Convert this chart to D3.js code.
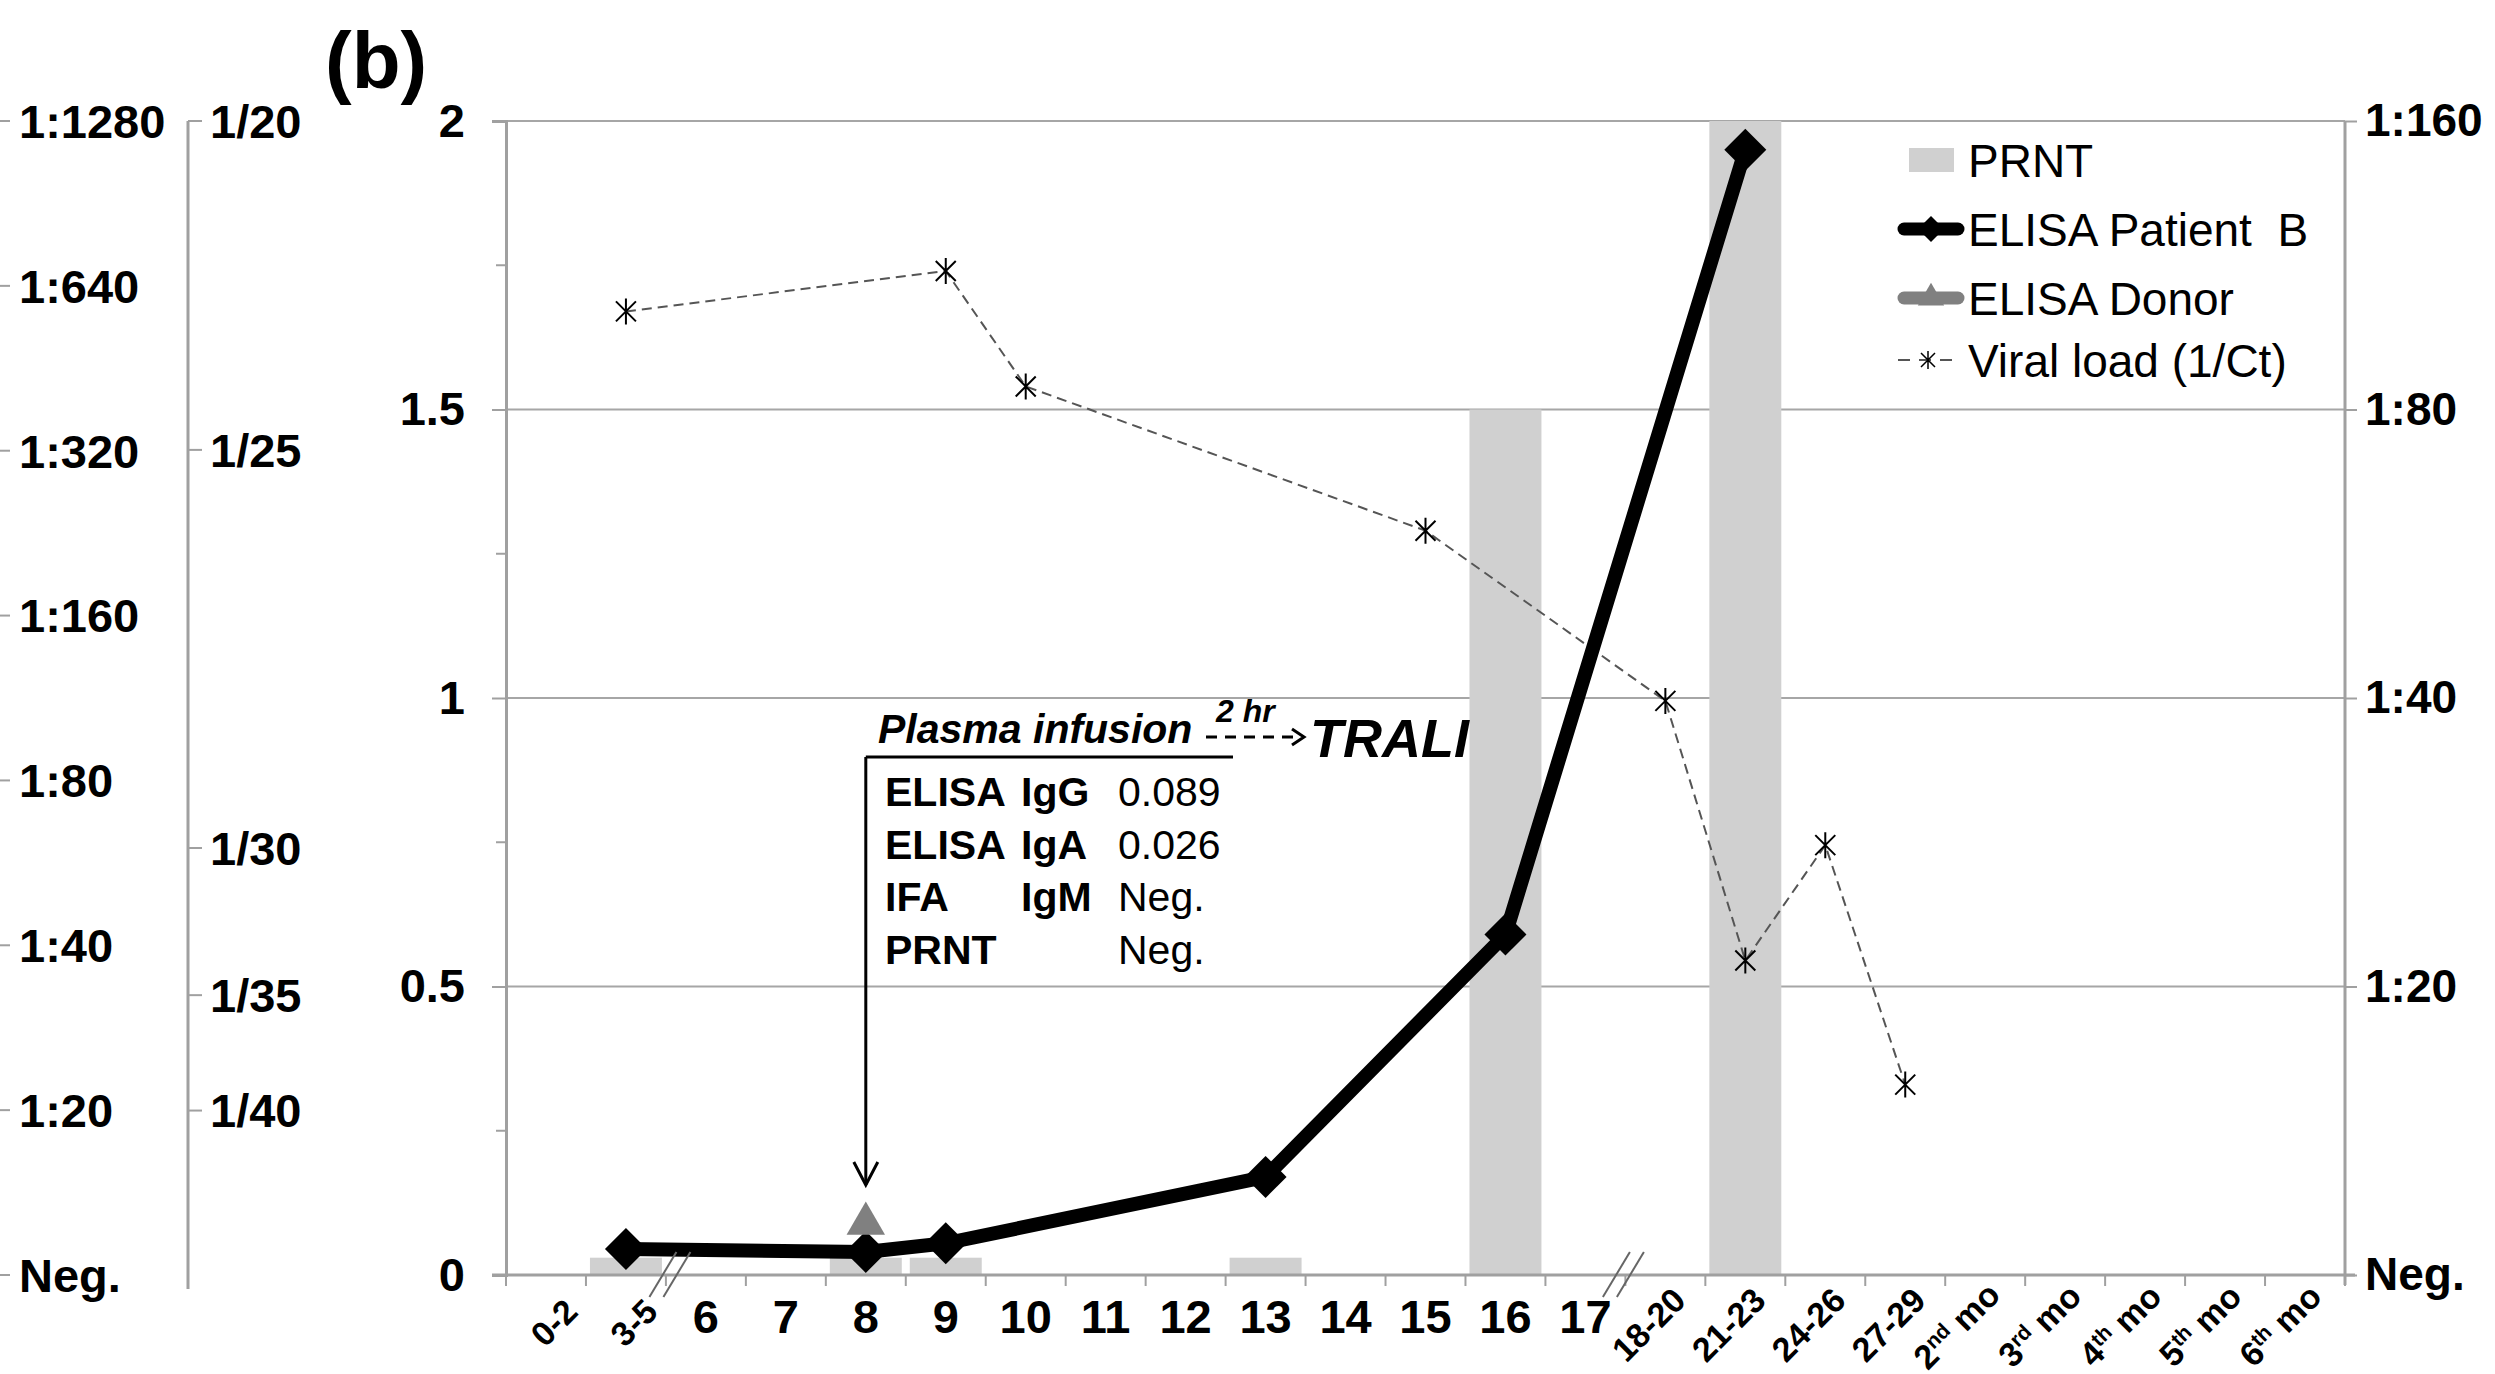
<!DOCTYPE html>
<html>
<head>
<meta charset="utf-8">
<script src="https://cdnjs.cloudflare.com/ajax/libs/d3/7.8.5/d3.min.js"></script>
<style>
  body { margin: 0; background: #fff; }
  svg text { font-family: "Liberation Sans", Arial, sans-serif; fill: #000; }
</style>
</head>
<body>
<div id="chart"></div>
<script>
// categories (days after onset, then months)
const categories = ["0-2","3-5","6","7","8","9","10","11","12","13","14","15","16","17",
  "18-20","21-23","24-26","27-29","2nd mo","3rd mo","4th mo","5th mo","6th mo"];

// PRNT bars
const prntDays = ["3-5","8","9","13","16","21-23"];
const prntValues = [0.03, 0.03, 0.03, 0.03, 1.5, 2];

// ELISA patient B
const patientDays = ["3-5","8","9","13","16","21-23"];
const patientValues = [0.045, 0.04, 0.055, 0.17, 0.59, 1.95];

// ELISA donor
const donorDays = ["8"];
const donorValues = [0.089];

// viral load (1/Ct)
const viralDays = ["3-5","9","10","15","18-20","21-23","24-26","27-29"];
const viralValues = [1.67, 1.74, 1.54, 1.29, 0.995, 0.545, 0.745, 0.33];

// axis tick labels
const mainTicks = [0, 0.5, 1, 1.5, 2];
const minorTicks = [0.25, 0.75, 1.25, 1.75];
const leftTiters = ["Neg.","1:20","1:40","1:80","1:160","1:320","1:640","1:1280"];
const rightTiters = ["Neg.","1:20","1:40","1:80","1:160"];
const ctLabels = ["1/20","1/25","1/30","1/35","1/40"];
const ctLevels = [2.0, 1.43, 0.74, 0.485, 0.285];   // where each Ct label sits on the 0-2 scale

const legendItems = ["PRNT","ELISA Patient\u00a0 B","ELISA Donor","Viral load (1/Ct)"];
const tableRows = [["ELISA","IgG","0.089"],["ELISA","IgA","0.026"],["IFA","IgM","Neg."],["PRNT","","Neg."]];

const width = 2495, height = 1374;
const plotLeft = 506, plotRight = 2345, plotTop = 121, plotBottom = 1275;
const axisGray = "#a0a0a0";

const svg = d3.select('#chart').append('svg')
  .attr('width', width).attr('height', height)
  .style('background', '#fff');

const x = d3.scaleBand().domain(categories).range([plotLeft, plotRight]);
const y = d3.scaleLinear().domain([0, 2]).range([plotBottom, plotTop]);
const cx = d => x(d) + x.bandwidth() / 2;

// gridlines
svg.append('g').selectAll('line')
  .data(mainTicks.filter(v => v > 0))
  .enter().append('line')
  .attr('x1', plotLeft).attr('x2', plotRight)
  .attr('y1', d => y(d)).attr('y2', d => y(d))
  .attr('stroke', '#a6a6a6').attr('stroke-width', 2);

// main left axis
const yAxis = svg.append('g')
  .attr('transform', `translate(${plotLeft},0)`)
  .call(d3.axisLeft(y).tickValues(mainTicks).tickSize(14).tickPadding(27).tickFormat(d3.format('')));
yAxis.select('.domain').attr('stroke', axisGray).attr('stroke-width', 3);
yAxis.selectAll('.tick line').attr('stroke', axisGray).attr('stroke-width', 2);
yAxis.selectAll('text').style('font-size', '47px').style('font-weight', 'bold');
svg.append('g').selectAll('line').data(minorTicks).enter().append('line')
  .attr('x1', plotLeft - 10).attr('x2', plotLeft)
  .attr('y1', d => y(d)).attr('y2', d => y(d))
  .attr('stroke', axisGray).attr('stroke-width', 2);

// right titer axis
const yRight = d3.scalePoint().domain(rightTiters).range([plotBottom, plotTop]);
const rAxis = svg.append('g')
  .attr('transform', `translate(${plotRight},0)`)
  .call(d3.axisRight(yRight).tickSize(12).tickPadding(8));
rAxis.select('.domain').attr('stroke', axisGray).attr('stroke-width', 3)
  .attr('d', `M0,${plotTop}V${plotBottom + 10}`);
rAxis.selectAll('.tick line').attr('stroke', axisGray).attr('stroke-width', 2);
rAxis.selectAll('text').style('font-size', '46px').style('font-weight', 'bold');

// outer left titer axis
const yLeft = d3.scalePoint().domain(leftTiters).range([plotBottom, plotTop]);
const lg = svg.append('g');
lg.selectAll('line').data(leftTiters).enter().append('line')
  .attr('x1', 0).attr('x2', 10)
  .attr('y1', d => yLeft(d)).attr('y2', d => yLeft(d))
  .attr('stroke', axisGray).attr('stroke-width', 2);
lg.selectAll('text').data(leftTiters).enter().append('text')
  .attr('x', 19).attr('y', d => yLeft(d)).attr('dy', '0.36em')
  .style('font-size', '47px').style('font-weight', 'bold')
  .text(d => d);

// Ct axis
const ctX = 188;
const cg = svg.append('g');
cg.append('line').attr('x1', ctX).attr('x2', ctX).attr('y1', y(2)).attr('y2', plotBottom + 14)
  .attr('stroke', axisGray).attr('stroke-width', 3);
cg.selectAll('line.t').data(ctLevels).enter().append('line').attr('class', 't')
  .attr('x1', ctX).attr('x2', ctX + 14)
  .attr('y1', d => y(d)).attr('y2', d => y(d))
  .attr('stroke', axisGray).attr('stroke-width', 2);
cg.selectAll('text').data(ctLabels).enter().append('text')
  .attr('x', ctX + 22).attr('y', (d, i) => y(ctLevels[i])).attr('dy', '0.36em')
  .style('font-size', '47px').style('font-weight', 'bold')
  .text(d => d);

// panel label
svg.append('text').attr('x', 325).attr('y', 88)
  .style('font-size', '80px').style('font-weight', 'bold').text('(b)');

// PRNT bars
const barW = x.bandwidth() * 0.9;
svg.append('g').selectAll('rect')
  .data(prntDays.map((d, i) => ({ day: d, v: prntValues[i] })))
  .enter().append('rect')
  .attr('x', d => cx(d.day) - barW / 2)
  .attr('y', d => y(d.v))
  .attr('width', barW)
  .attr('height', d => y(0) - y(d.v))
  .attr('fill', '#d0d0d0');

// x axis
svg.append('line').attr('x1', plotLeft - 14).attr('x2', plotRight + 10)
  .attr('y1', plotBottom).attr('y2', plotBottom)
  .attr('stroke', axisGray).attr('stroke-width', 3);
svg.append('g').selectAll('line')
  .data(categories.map(c => x(c)).concat([plotRight]))
  .enter().append('line')
  .attr('x1', d => d).attr('x2', d => d)
  .attr('y1', plotBottom).attr('y2', plotBottom + 11)
  .attr('stroke', axisGray).attr('stroke-width', 2);

// x labels
const rotated = c => c.includes('-') || c.includes('mo');
const xl = svg.append('g');
categories.forEach(c => {
  if (!rotated(c)) {
    xl.append('text').attr('x', cx(c)).attr('y', plotBottom + 58)
      .attr('text-anchor', 'middle')
      .style('font-size', '47px').style('font-weight', 'bold')
      .text(c);
  } else {
    const t = xl.append('text')
      .attr('text-anchor', 'end')
      .style('font-size', '34px').style('font-weight', 'bold');
    const m = c.match(/^(\d)(st|nd|rd|th) (mo)$/);
    if (m) {
      t.append('tspan').text(m[1]);
      t.append('tspan').attr('baseline-shift', 'super').style('font-size', '21px').text(m[2]);
      t.append('tspan').text(' ' + m[3]);
    } else {
      t.text(c);
    }
    // shorter labels sit a little lower and to the right, as in Excel
    const s = 0.3 * (88 - t.node().getComputedTextLength());
    t.attr('transform', `translate(${cx(c) + 22 + s},${plotBottom + 27 + s}) rotate(-45)`);
  }
});

// viral load line
const viralData = viralDays.map((d, i) => ({ day: d, v: viralValues[i] }));
svg.append('path').datum(viralData)
  .attr('fill', 'none').attr('stroke', '#555').attr('stroke-width', 2)
  .attr('stroke-dasharray', '10,6')
  .attr('d', d3.line().x(d => cx(d.day)).y(d => y(d.v)));
const star = r => `M${-r},${-r}L${r},${r}M${-r},${r}L${r},${-r}M0,${-r * 1.3}L0,${r * 1.3}`;
svg.append('g').selectAll('path').data(viralData).enter().append('path')
  .attr('transform', d => `translate(${cx(d.day)},${y(d.v)})`)
  .attr('d', star(10)).attr('stroke', '#000').attr('stroke-width', 2).attr('fill', 'none');

// annotation
const arrowX = cx("8");
svg.append('path')
  .attr('d', `M${arrowX},757H1233M${arrowX},757V1185`)
  .attr('fill', 'none').attr('stroke', '#000').attr('stroke-width', 3);
svg.append('path')
  .attr('d', `M${arrowX - 12},1162L${arrowX},1185L${arrowX + 12},1162`)
  .attr('fill', 'none').attr('stroke', '#000').attr('stroke-width', 3);
svg.append('text').attr('x', 878).attr('y', 743)
  .style('font-size', '41px').style('font-weight', 'bold').style('font-style', 'italic')
  .text('Plasma infusion');
svg.append('text').attr('x', 1216).attr('y', 722)
  .style('font-size', '32px').style('font-weight', 'bold').style('font-style', 'italic')
  .text('2 hr');
svg.append('line').attr('x1', 1206).attr('x2', 1296).attr('y1', 737).attr('y2', 737)
  .attr('stroke', '#000').attr('stroke-width', 3).attr('stroke-dasharray', '11,8');
svg.append('path').attr('d', 'M1292,729L1304,737L1292,745')
  .attr('fill', 'none').attr('stroke', '#000').attr('stroke-width', 3);
svg.append('text').attr('x', 1310).attr('y', 757)
  .style('font-size', '54px').style('font-weight', 'bold').style('font-style', 'italic')
  .text('TRALI');

const tg = svg.append('g');
tableRows.forEach((r, i) => {
  const ty = 806 + i * 52.5;
  tg.append('text').attr('x', 885).attr('y', ty).style('font-size', '41px').style('font-weight', 'bold').text(r[0]);
  tg.append('text').attr('x', 1021).attr('y', ty).style('font-size', '41px').style('font-weight', 'bold').text(r[1]);
  tg.append('text').attr('x', 1118).attr('y', ty).style('font-size', '41px').text(r[2]);
});

// ELISA patient line
const patientData = patientDays.map((d, i) => ({ day: d, v: patientValues[i] }));
svg.append('path').datum(patientData)
  .attr('fill', 'none').attr('stroke', '#000').attr('stroke-width', 14)
  .attr('stroke-linejoin', 'round')
  .attr('d', d3.line().x(d => cx(d.day)).y(d => y(d.v)));
const diamond = r => `M0,${-r}L${r},0L0,${r}L${-r},0Z`;
svg.append('g').selectAll('path').data(patientData).enter().append('path')
  .attr('transform', d => `translate(${cx(d.day)},${y(d.v)})`)
  .attr('d', diamond(21)).attr('fill', '#000');

// ELISA donor
svg.append('g').selectAll('path')
  .data(donorDays.map((d, i) => ({ day: d, v: donorValues[i] })))
  .enter().append('path')
  .attr('transform', d => `translate(${cx(d.day)},${y(d.v)})`)
  .attr('d', d3.symbol().type(d3.symbolTriangle).size(640))
  .attr('fill', '#808080');

// break marks, drawn over the series
const breakOffsets = [["6", 4], ["18-20", -2]];
breakOffsets.forEach(([c, off]) => {
  const bx = x(c) + off;
  [-7, 7].forEach(d => {
    svg.append('line')
      .attr('x1', bx + d + 13.5).attr('y1', plotBottom - 23)
      .attr('x2', bx + d - 13.5).attr('y2', plotBottom + 22)
      .attr('stroke', '#666').attr('stroke-width', 2);
  });
});

// legend
const legX = 1968;
const legY = [160, 229, 298, 360];
const leg = svg.append('g');
leg.append('rect').attr('x', 1909).attr('y', legY[0] - 12).attr('width', 45).attr('height', 24).attr('fill', '#d0d0d0');
leg.append('line').attr('x1', 1904).attr('x2', 1958).attr('y1', legY[1]).attr('y2', legY[1])
  .attr('stroke', '#000').attr('stroke-width', 13).attr('stroke-linecap', 'round');
leg.append('path').attr('transform', `translate(1931,${legY[1]})`).attr('d', diamond(13)).attr('fill', '#000');
leg.append('line').attr('x1', 1904).attr('x2', 1958).attr('y1', legY[2]).attr('y2', legY[2])
  .attr('stroke', '#808080').attr('stroke-width', 13).attr('stroke-linecap', 'round');
leg.append('path').attr('transform', `translate(1931,${legY[2]})`)
  .attr('d', d3.symbol().type(d3.symbolTriangle).size(300)).attr('fill', '#808080');
leg.append('line').attr('x1', 1898).attr('x2', 1960).attr('y1', legY[3]).attr('y2', legY[3])
  .attr('stroke', '#555').attr('stroke-width', 2).attr('stroke-dasharray', '12,9');
leg.append('path').attr('transform', `translate(1928,${legY[3]})`)
  .attr('d', star(7)).attr('stroke', '#000').attr('stroke-width', 1.5).attr('fill', 'none');
leg.selectAll('text').data(legendItems).enter().append('text')
  .attr('x', legX).attr('y', (d, i) => legY[i]).attr('dy', '0.36em')
  .style('font-size', '46px')
  .text(d => d);
</script>
</body>
</html>
